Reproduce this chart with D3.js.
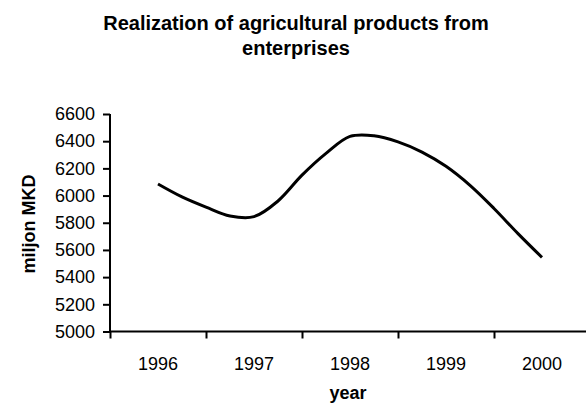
<!DOCTYPE html>
<html><head><meta charset="utf-8">
<script src="https://cdn.jsdelivr.net/npm/d3@7"></script>
<style>body{margin:0;background:#fff}svg{display:block}text{font-family:Arial,"Liberation Sans",sans-serif;fill:#000}</style>
</head><body><svg id="c" width="586" height="406"></svg>
<script>
const years = [1996, 1997, 1998, 1999, 2000];
const yTicks = [5000, 5200, 5400, 5600, 5800, 6000, 6200, 6400, 6600];
// quarterly readings (position in years, value in miljon MKD)
const periods = [1996, 1996.25, 1996.5, 1996.75, 1997, 1997.25, 1997.5, 1997.75, 1998, 1998.25, 1998.5, 1998.75, 1999, 1999.25, 1999.5, 1999.75, 2000];
const values = [6085, 5990, 5915, 5850, 5845, 5960, 6150, 6310, 6435, 6440, 6395, 6320, 6215, 6075, 5905, 5720, 5545];
const titleLines = ["Realization of agricultural products from", "enterprises"];

const svg = d3.select("#c");
const x = d3.scaleLinear().domain([1995.5, 2000.5]).range([110, 590]);
const y = d3.scaleLinear().domain([5000, 6600]).range([331.5, 114]);

svg.selectAll("text.title").data(titleLines).join("text")
  .attr("x", 296).attr("y", (d, i) => 30 + i * 25)
  .attr("text-anchor", "middle").attr("font-weight", "bold").attr("font-size", 20)
  .text(d => d);

const gy = svg.append("g").attr("transform", "translate(110,0)")
  .call(d3.axisLeft(y).tickValues(yTicks).tickSize(7).tickPadding(8).tickFormat(d3.format("d")));
const gx = svg.append("g").attr("transform", "translate(0,331.5)")
  .call(d3.axisBottom(x).tickValues([1995.5, 1996.5, 1997.5, 1998.5, 1999.5]).tickSize(7).tickFormat(""));
gx.selectAll("text.lbl").data(years).join("text")
  .attr("x", d => x(d)).attr("y", 38).attr("text-anchor", "middle").attr("font-size", 18).text(d => d);
[gy, gx].forEach(g => {
  g.select(".domain").attr("stroke", "#000").attr("stroke-width", 2);
  g.selectAll(".tick line").attr("stroke", "#000").attr("stroke-width", 2);
});
gy.selectAll(".tick text").attr("font-size", 18).attr("font-family", "Arial, 'Liberation Sans', sans-serif").attr("fill", "#000");
gx.select(".domain").attr("d", `M${x(1995.5)},0H${x(2000.5)}`);
gy.select(".domain").attr("d", `M0,${y(6600)}V${y(5000)}`);

svg.append("text").attr("transform", "translate(35,224) rotate(-90)")
  .attr("text-anchor", "middle").attr("font-weight", "bold").attr("font-size", 18).text("miljon MKD");
svg.append("text").attr("x", 348).attr("y", 399)
  .attr("text-anchor", "middle").attr("font-weight", "bold").attr("font-size", 18).text("year");

const pts = periods.map((p, i) => [p, values[i]]);
svg.append("path").datum(pts)
  .attr("fill", "none").attr("stroke", "#000").attr("stroke-width", 3).attr("stroke-linejoin", "round")
  .attr("d", d3.line().x(d => x(d[0])).y(d => y(d[1])).curve(d3.curveCatmullRom.alpha(0.5)));
</script></body></html>
